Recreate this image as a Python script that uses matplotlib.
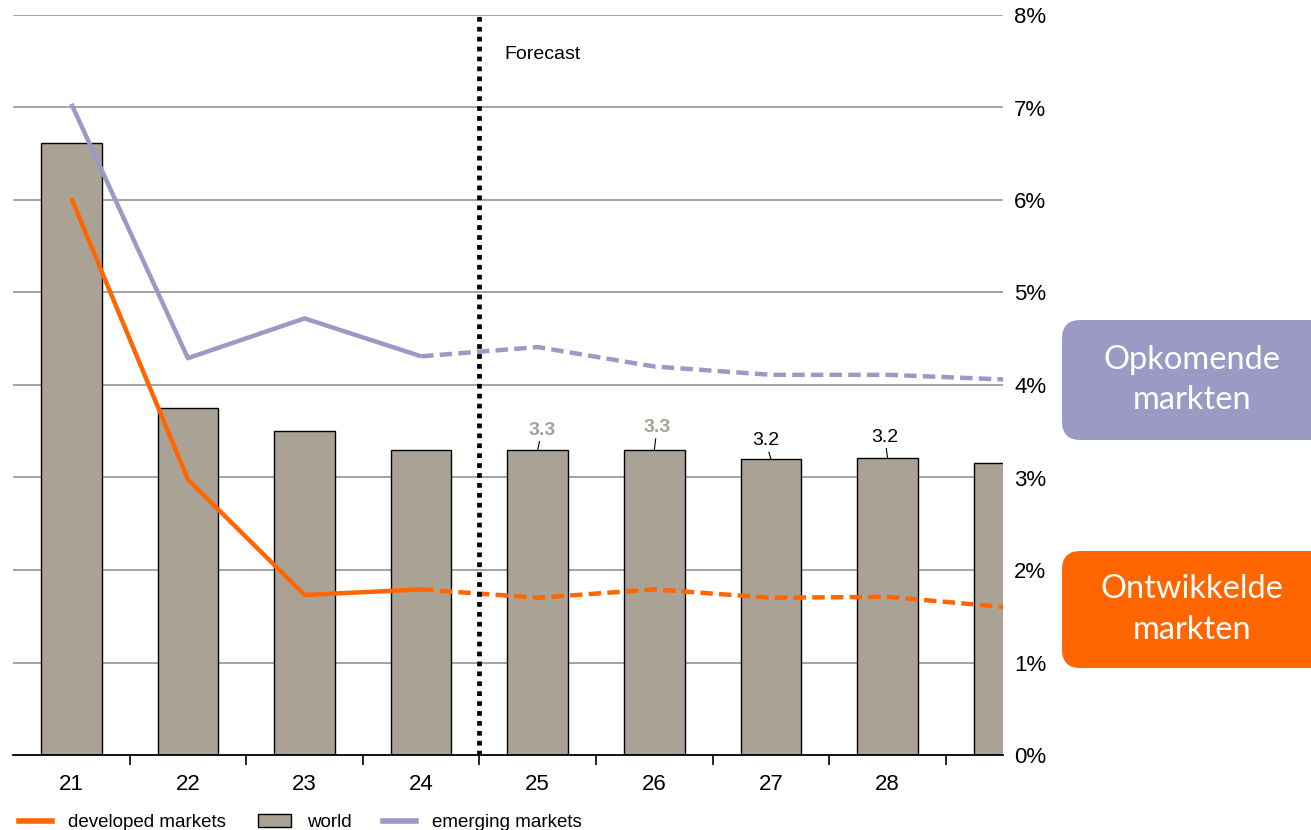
import matplotlib
matplotlib.use("Agg")
import matplotlib.pyplot as plt
from matplotlib.patches import FancyBboxPatch, Patch
from matplotlib.lines import Line2D
from matplotlib.ticker import FixedLocator, PercentFormatter

plt.rcParams["font.family"] = ["Liberation Sans Narrow", "Liberation Sans", "DejaVu Sans"]

# ── Data ──────────────────────────────────────────────────────────────────────
years      = [21, 22, 23, 24, 25, 26, 27, 28, 29]
world      = [6.62, 3.75, 3.50, 3.30, 3.30, 3.30, 3.20, 3.21, 3.16]
emerging   = [7.04, 4.29, 4.72, 4.31, 4.41, 4.20, 4.11, 4.11, 4.06]
developed  = [6.02, 2.98, 1.73, 1.79, 1.70, 1.79, 1.70, 1.71, 1.60]
last_actual = 24
labelled_years = [25, 26, 27, 28]
label_colors   = ["#A9A196", "#A9A196", "black", "black"]

ORANGE = "#FF6600"
PURPLE = "#9B9AC4"
BAR    = "#ABA296"

fig = plt.figure(figsize=(13.11, 8.30), dpi=100)
ax = fig.add_axes([13 / 1311, 75 / 830, 990 / 1311, 740 / 830])

# grid behind bars
for v in range(1, 9):
    ax.axhline(v, color="#8a8a8a", lw=1.1, zorder=0)

ax.bar(years, world, width=0.52, color=BAR, edgecolor="black", linewidth=1.0, zorder=2)

n = years.index(last_actual) + 1
dash = (2.8, 1.4)
ax.plot(years[:n], emerging[:n], color=PURPLE, lw=3.2, zorder=3, solid_capstyle="butt")
ax.plot(years[n - 1:], emerging[n - 1:], color=PURPLE, lw=3.2, zorder=3, dashes=dash)
ax.plot(years[:n], developed[:n], color=ORANGE, lw=3.2, zorder=3, solid_capstyle="butt")
ax.plot(years[n - 1:], developed[n - 1:], color=ORANGE, lw=3.2, zorder=3, dashes=dash)

# forecast divider
ax.axvline(last_actual + 0.5, color="black", lw=3.4, dashes=(1, 1.1), zorder=4)
ax.text(last_actual + 0.71, 7.57, "Forecast", fontsize=14, va="center", ha="left")

# value labels on forecast bars
offsets = [(3, 8), (2, 10), (-4, 7), (-2, 9)]
for yr, col, off in zip(labelled_years, label_colors, offsets):
    v = world[years.index(yr)]
    ax.annotate(f"{v:.1f}", xy=(yr, v), xytext=off, textcoords="offset points",
                ha="center", va="bottom", fontsize=14, color=col,
                fontweight="bold" if col != "black" else "normal",
                arrowprops=dict(arrowstyle="-", color="black", lw=0.8,
                                shrinkA=0, shrinkB=0))

ax.set_xlim(20.5, 28.99)
ax.set_ylim(0, 8)

ax.yaxis.tick_right()
ax.set_yticks(range(0, 9))
ax.yaxis.set_major_formatter(PercentFormatter(decimals=0))
ax.tick_params(axis="y", length=0, labelsize=16, pad=8)

ax.set_xticks(years[:-1])
ax.xaxis.set_minor_locator(FixedLocator([y + 0.5 for y in years[:-1]]))
ax.tick_params(axis="x", which="major", length=0, labelsize=16, pad=14)
ax.tick_params(axis="x", which="minor", length=7, width=1.2, direction="out")

for s in ["top", "right", "left"]:
    ax.spines[s].set_visible(False)
ax.spines["bottom"].set_linewidth(1.3)
ax.spines["bottom"].set_zorder(5)

# clipped title at the very top (the reference crops it too)
fig.text(0.028, 1.006, "GDP growth (% year-on-year)", fontsize=14, va="baseline")

# legend
handles = [
    Line2D([], [], color=ORANGE, lw=4),
    Patch(facecolor=BAR, edgecolor="black"),
    Line2D([], [], color=PURPLE, lw=4),
]
fig.legend(handles, ["developed markets", "world", "emerging markets"],
           loc="lower left", bbox_to_anchor=(0.002, -0.022), ncol=3,
           frameon=False, fontsize=13.5, handlelength=1.75, columnspacing=1.7,
           handletextpad=0.85)

# side boxes
for y0, h, col, txt in [(390, 120, PURPLE, "Opkomende\nmarkten"),
                        (162, 117, ORANGE, "Ontwikkelde\nmarkten")]:
    box = FancyBboxPatch((1062 / 1311, y0 / 830), 270 / 1311, h / 830,
                         boxstyle="round,pad=0,rounding_size=0.014",
                         transform=fig.transFigure, facecolor=col,
                         edgecolor="none", mutation_aspect=1311 / 830)
    fig.add_artist(box)
    fig.text(1192 / 1311, (y0 + h / 2) / 830, txt, color="white",
             ha="center", va="center", fontsize=23.5, linespacing=1.45,
             family=["Lato", "DejaVu Sans"])

fig.savefig("out.png", dpi=100)
